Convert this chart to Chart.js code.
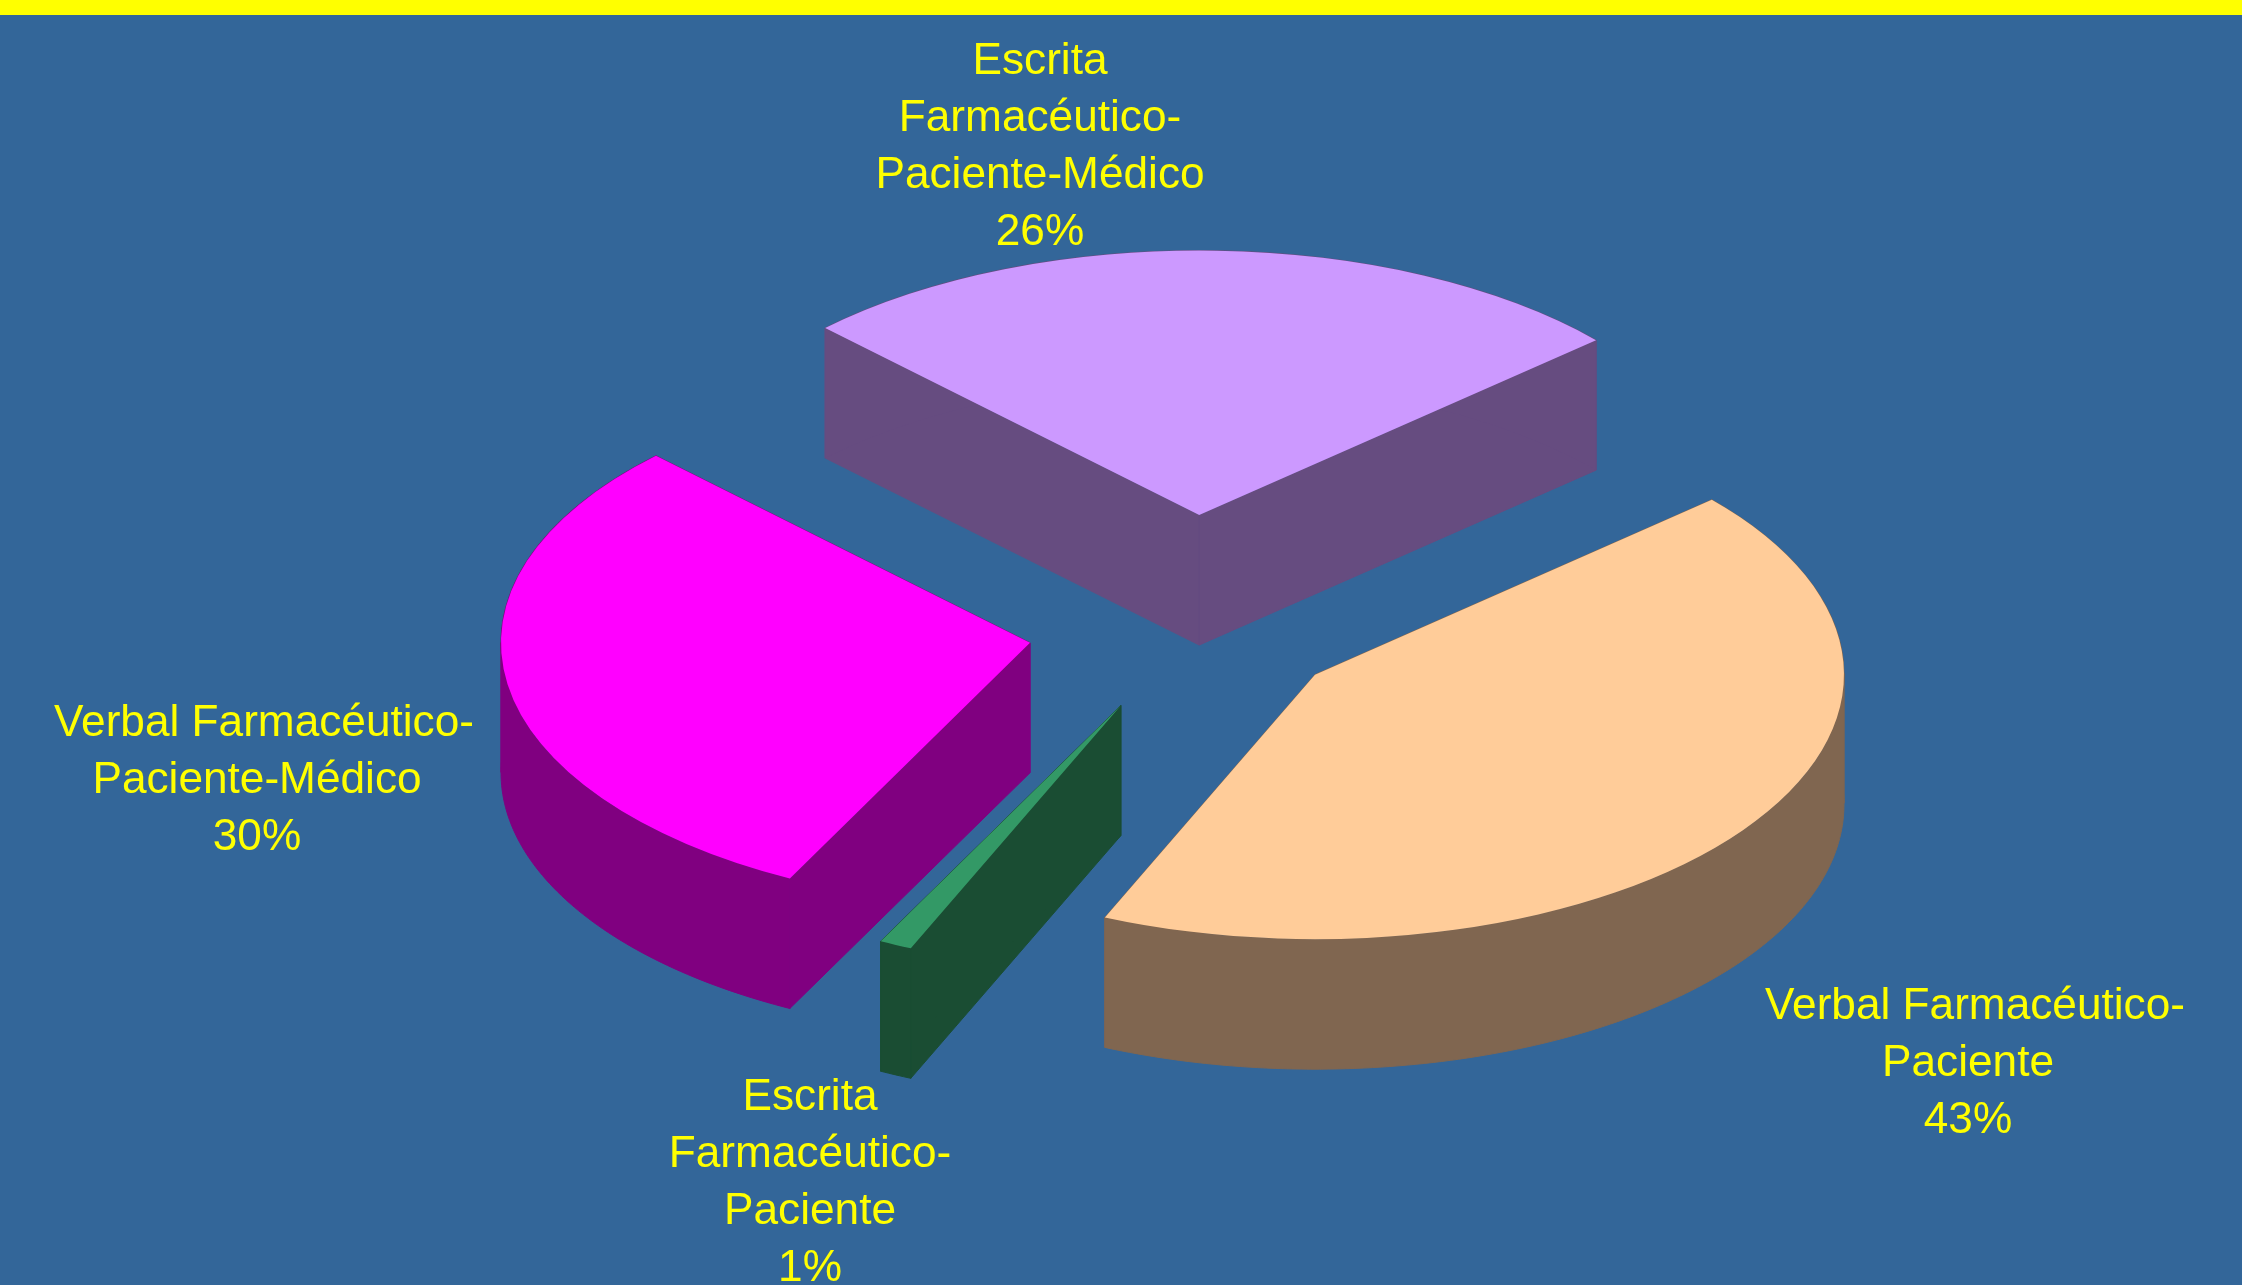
<!DOCTYPE html>
<html lang="es">
<head>
<meta charset="utf-8">
<title>Comunicación farmacéutico-paciente</title>
<script src="https://cdn.jsdelivr.net/npm/chart.js@4/dist/chart.umd.min.js"></script>
<style>
    html, body { margin: 0; padding: 0; background: #336699; overflow: hidden; }
    #topBar { position: absolute; left: 0; top: 0; width: 2242px; height: 15px; background: #ffff00; }
    #pieChart { position: absolute; left: 0; top: 0; }
</style>
</head>
<body>
<canvas id="pieChart" width="2242" height="1285"></canvas>
<div id="topBar"></div>
<script>
// Data
const categories = [
    "Escrita Farmacéutico-Paciente-Médico",
    "Verbal Farmacéutico-Paciente",
    "Escrita Farmacéutico-Paciente",
    "Verbal Farmacéutico-Paciente-Médico"
];
const percentages = [26, 43, 1, 30];
const labelLines = [
    ["Escrita", "Farmacéutico-", "Paciente-Médico"],
    ["Verbal Farmacéutico-", "Paciente"],
    ["Escrita", "Farmacéutico-", "Paciente"],
    ["Verbal Farmacéutico-", "Paciente-Médico"]
];

// Styles
const topColors = ["#cc99ff", "#ffcc99", "#339966", "#ff00ff"];
const wallColors = ["#664c80", "#806650", "#1a4d33", "#800080"];
const sliceExplode = [230, 152, 167, 164];
const labelCenterX = [1040, 1968, 810, 257];
const labelFirstBaseline = [74, 1019, 1110, 736];
const longLineShift = 7;   // the two long "Verbal" lines sit a little right of centre
const drawOrder = [0, 3, 2, 1];
const squash = 0.5;
const wallDepth = 130;
const lineHeight = 57;

function fillFace(ctx, face) {
    ctx.beginPath();
    face.forEach((p, k) => k ? ctx.lineTo(p[0], p[1]) : ctx.moveTo(p[0], p[1]));
    ctx.closePath();
    ctx.fill();
    ctx.stroke();
}

// The rim doubles back at the far left and right of the ellipse, so cut it there
function splitRim(rim) {
    const runs = [[rim[0]]];
    let dir = 0;
    for (let k = 1; k < rim.length; k++) {
        const d = Math.sign(rim[k][0] - rim[k - 1][0]);
        const run = runs[runs.length - 1];
        if (dir && d && d !== dir) runs.push([run[run.length - 1]]);
        runs[runs.length - 1].push(rim[k]);
        if (d) dir = d;
    }
    return runs;
}

// Tilts the flat arcs into a thick exploded disc: side walls first, then the arc on top
const slabPlugin = {
    id: "slabPie",
    beforeDatasetDraw(chart, args) {
        const ctx = chart.ctx;
        drawOrder.forEach(i => {
            const arc = args.meta.data[i];
            const mid = (arc.startAngle + arc.endAngle) / 2;
            const apexX = arc.x + Math.cos(mid) * sliceExplode[i];
            const apexY = arc.y + Math.sin(mid) * sliceExplode[i] * squash;

            // Rim of the slice on screen
            const rim = [];
            const steps = Math.max(8, Math.round((arc.endAngle - arc.startAngle) * 60));
            for (let s = 0; s <= steps; s++) {
                const a = arc.startAngle + (arc.endAngle - arc.startAngle) * s / steps;
                rim.push([apexX + Math.cos(a) * arc.outerRadius, apexY + Math.sin(a) * arc.outerRadius * squash]);
            }
            const down = p => [p[0], p[1] + wallDepth];
            const first = rim[0];
            const last = rim[rim.length - 1];
            const apex = [apexX, apexY];

            ctx.save();
            ctx.fillStyle = wallColors[i];
            ctx.strokeStyle = wallColors[i];
            ctx.lineWidth = 1;
            fillFace(ctx, [apex, first, down(first), down(apex)]);
            fillFace(ctx, [apex, last, down(last), down(apex)]);
            splitRim(rim).forEach(run => fillFace(ctx, [...run, ...run.map(down).reverse()]));
            ctx.restore();

            ctx.save();
            ctx.translate(apexX, apexY);
            ctx.scale(1, squash);
            ctx.translate(-arc.x, -arc.y);
            arc.draw(ctx);
            ctx.restore();
        });
        return false;
    },
    afterDatasetsDraw(chart) {
        const ctx = chart.ctx;
        ctx.save();
        ctx.fillStyle = "#ffff00";
        ctx.font = '44.2px "Liberation Sans", Arial, sans-serif';
        ctx.textAlign = "center";
        ctx.textBaseline = "alphabetic";
        labelLines.forEach((lines, i) => {
            [...lines, percentages[i] + "%"].forEach((text, n) => {
                const shift = text.startsWith("Verbal") ? longLineShift : 0;
                ctx.fillText(text, labelCenterX[i] + shift, labelFirstBaseline[i] + n * lineHeight);
            });
        });
        ctx.restore();
    }
};

new Chart(document.getElementById("pieChart"), {
    type: "pie",
    data: {
        labels: categories,
        datasets: [{
            data: percentages,
            backgroundColor: topColors,
            borderWidth: 0
        }]
    },
    options: {
        responsive: false,
        animation: false,
        rotation: -45,
        layout: { padding: { left: 663, right: 521, top: 101, bottom: 126 } },
        plugins: {
            legend: { display: false },
            tooltip: { enabled: false }
        }
    },
    plugins: [slabPlugin]
});
</script>
</body>
</html>
